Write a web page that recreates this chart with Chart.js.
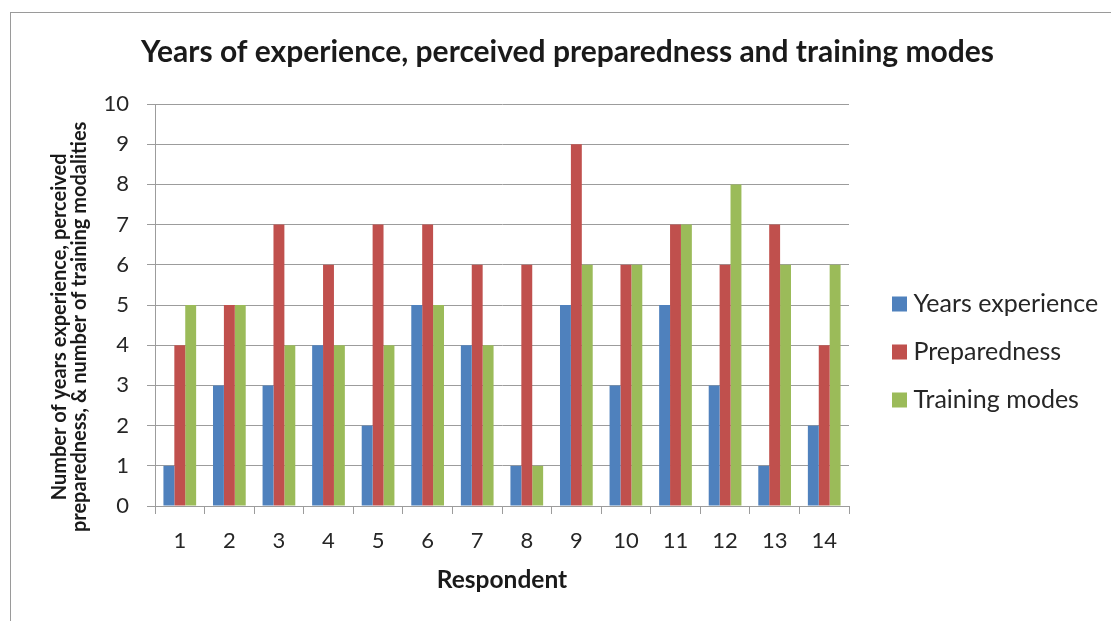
<!DOCTYPE html>
<html>
<head>
<meta charset="utf-8">
<script src="https://cdn.jsdelivr.net/npm/chart.js@4.4.1/dist/chart.umd.min.js"></script>
<style>
  html, body { margin: 0; padding: 0; background: #ffffff; }
  #wrap { width: 1111px; height: 621px; position: relative; }
</style>
</head>
<body>
<div id="wrap"><canvas id="c" width="1111" height="621"></canvas></div>
<script>
// ---- data ----
const respondents = ['1', '2', '3', '4', '5', '6', '7', '8', '9', '10', '11', '12', '13', '14'];
const yearsExperience = [1, 3, 3, 4, 2, 5, 4, 1, 5, 3, 5, 3, 1, 2];
const preparedness   = [4, 5, 7, 6, 7, 7, 6, 6, 9, 6, 7, 6, 7, 4];
const trainingModes  = [5, 5, 4, 4, 4, 5, 4, 1, 6, 6, 7, 8, 6, 6];
const seriesNames = ['Years experience', 'Preparedness', 'Training modes'];
const chartTitle = 'Years of experience, perceived preparedness and training modes';
const xTitle = 'Respondent';
const yTitle = ['Number of years experience, perceived', 'preparedness, & number of training modalities'];
const yMin = 0, yMax = 10, yStep = 1;

// ---- styles ----
const FONT = "Lato, 'Open Sans', 'DejaVu Sans', sans-serif";
const TEXT = '#262626';
const GRID = '#9c9c9c';
const colors = ['#4F81BD', '#C0504D', '#9BBB59'];
const LEGEND_FONT = 25, LEGEND_PAD = 23;

const layoutPlugin = {
  id: 'layoutPlugin',
  beforeInit(chart) {
    const lg = chart.legend;
    if (lg) {
      const origFit = lg.fit.bind(lg);
      lg.fit = function () { origFit(); this.width = 262; };
    }
  },
  afterLayout(chart) {
    const lg = chart.legend;
    if (lg) {
      lg.left = chart.chartArea.right + 26;
      lg.top = 304 - LEGEND_PAD - LEGEND_FONT / 2;
    }
  },
  beforeDraw(chart) {
    const ctx = chart.ctx;
    ctx.save();
    ctx.fillStyle = '#ffffff';
    ctx.fillRect(0, 0, chart.width, chart.height);
    ctx.strokeStyle = '#9a9a9a';
    ctx.lineWidth = 1;
    ctx.strokeRect(10.5, 12.5, 1300, 800);
    ctx.restore();
  }
};

new Chart(document.getElementById('c'), {
  type: 'bar',
  data: {
    labels: respondents,
    datasets: [
      { label: seriesNames[0], data: yearsExperience, backgroundColor: colors[0] },
      { label: seriesNames[1], data: preparedness, backgroundColor: colors[1] },
      { label: seriesNames[2], data: trainingModes, backgroundColor: colors[2] }
    ]
  },
  options: {
    responsive: false,
    animation: false,
    devicePixelRatio: 1,
    layout: { padding: { left: 24, right: 0, top: 0, bottom: 0 } },
    datasets: { bar: { categoryPercentage: 0.66, barPercentage: 1.0, borderWidth: 0 } },
    plugins: {
      title: {
        display: true,
        text: chartTitle,
        color: '#1a1a1a',
        font: { family: FONT, size: 30, weight: 'bold', lineHeight: 1.2 },
        padding: { top: 34.2, bottom: 33.8 }
      },
      legend: {
        display: true,
        position: 'right',
        align: 'start',
        labels: {
          color: TEXT,
          font: { family: FONT, size: LEGEND_FONT },
          usePointStyle: true,
          pointStyle: 'rect',
          boxWidth: 3,
          boxHeight: 15,
          padding: LEGEND_PAD
        }
      },
      tooltip: { enabled: false }
    },
    scales: {
      x: {
        offset: true,
        grid: { display: true, drawOnChartArea: false, drawTicks: true, tickLength: 8, color: GRID, lineWidth: 1 },
        border: { display: true, color: GRID, width: 1 },
        ticks: { color: TEXT, font: { family: FONT, size: 22 }, padding: 14, maxRotation: 0, autoSkip: false },
        title: {
          display: true, text: xTitle, color: '#1a1a1a',
          font: { family: FONT, size: 24.5, weight: 'bold', lineHeight: 1.2 },
          padding: { top: 0, bottom: 26.3 }
        },
        afterFit(scale) { scale.height = 115; }
      },
      y: {
        min: yMin, max: yMax,
        grid: { color: GRID, lineWidth: 1, tickLength: 8, drawTicks: true },
        border: { display: true, color: GRID, width: 1 },
        ticks: { stepSize: yStep, color: TEXT, font: { family: FONT, size: 22 }, padding: 18 },
        title: {
          display: true,
          text: yTitle.map(s => s + '         '),
          color: '#1a1a1a',
          font: { family: FONT, size: 20, weight: 'bold', lineHeight: 1.0 },
          padding: { top: 26, bottom: 0 }
        },
        afterFit(scale) { scale.width = 131; }
      }
    }
  },
  plugins: [layoutPlugin]
});
</script>
</body>
</html>
